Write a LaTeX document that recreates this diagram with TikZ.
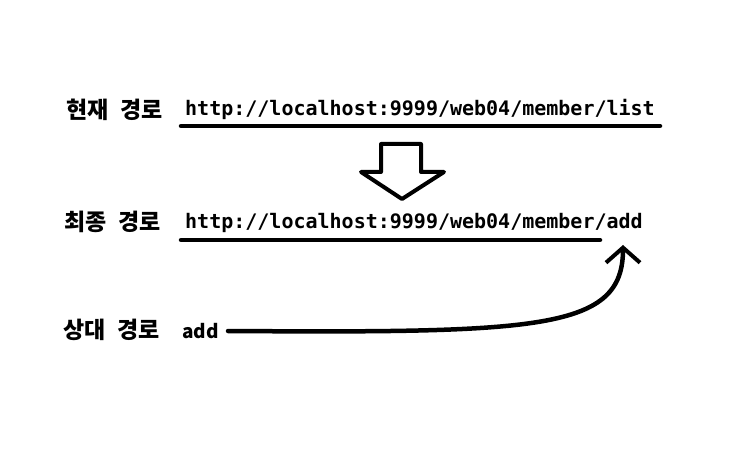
\documentclass[tikz,border=0pt]{standalone}
\usepackage{fontspec}
\newfontfamily\kofont{Noto Sans CJK KR}
\newfontfamily\urlfont{DejaVu Sans Mono}
\usetikzlibrary{arrows.meta}
\tikzset{
  ko/.style={anchor=base west, inner sep=0pt, font=\kofont\bfseries\fontsize{23}{23}\selectfont},
  url/.style={anchor=base west, inner sep=0pt, font=\urlfont\bfseries\fontsize{20}{20}\selectfont},
  rel/.style={anchor=base west, inner sep=0pt, font=\kofont\bfseries\fontsize{19}{19}\selectfont},
  uline/.style={line width=4.5pt, line cap=round},
  bigarrow/.style={line width=4pt, line join=round, fill=white},
  curvearrow/.style={line width=4.5pt, line cap=round, -{Straight Barb[length=15pt,width=34pt,line width=4pt]}}
}
\begin{document}
\begin{tikzpicture}[x=1pt,y=-1pt]
\useasboundingbox (0,0) rectangle (750,465);
% row 1
\node[ko] (ko1) at (66,118.5) {현재\hspace{12pt}경로};
\node[url] (url1) at (185,116) {http://localhost:9999/web04/member/list};
\coordinate (u1a) at (181,126);
\coordinate (u1b) at (660,126);
\draw[uline] (u1a) -- (u1b);
% hollow arrow
\draw[bigarrow] (381,144) -- (421,144) -- (421,172) -- (444,172) -- (402,199) -- (361,172) -- (381,172) -- cycle;
% row 2
\node[ko] (ko2) at (64,230.5) {최종\hspace{12pt}경로};
\node[url] (url2) at (185,228.5) {http://localhost:9999/web04/member/add};
\coordinate (u2a) at (181,240);
\coordinate (u2b) at (600,240);
\draw[uline] (u2a) -- (u2b);
% row 3
\node[ko] (ko3) at (63,338.5) {상대\hspace{12pt}경로};
\node[rel] (rel3) at (182,338) {add};
\coordinate (src) at (228,331);
\coordinate (tgt) at (623,245);
\draw[curvearrow] (src) .. controls (540,333) and (623,330) .. (tgt);
\end{tikzpicture}
\end{document}
